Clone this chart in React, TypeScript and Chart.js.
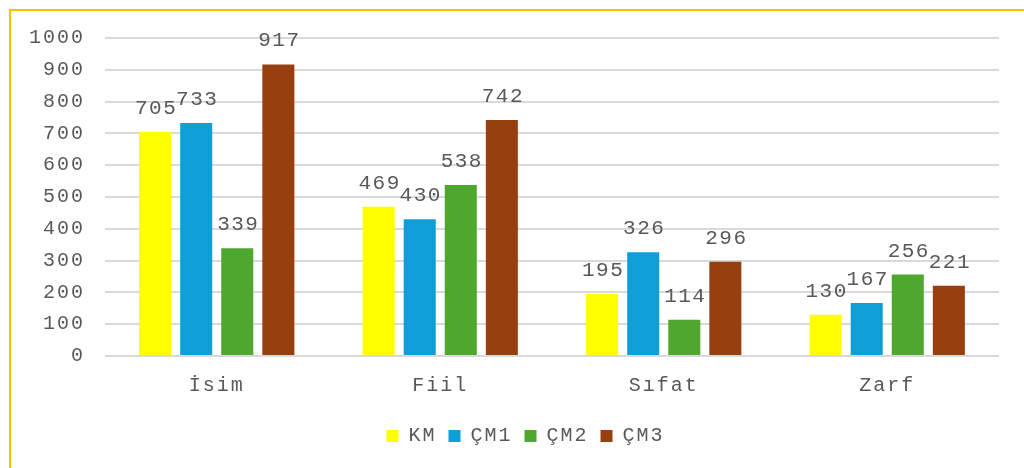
import React, { useEffect, useRef } from "react";
import { Chart, registerables } from "chart.js";

Chart.register(...registerables);

const categories = ["İsim", "Fiil", "Sıfat", "Zarf"];
const seriesNames = ["KM", "ÇM1", "ÇM2", "ÇM3"];
const kmValues = [705, 469, 195, 130];
const cm1Values = [733, 430, 326, 167];
const cm2Values = [339, 538, 114, 256];
const cm3Values = [917, 742, 296, 221];
const seriesColors = ["#FFFF00", "#0F9ED8", "#4EA72E", "#973F0F"];
const yTicks = [0, 100, 200, 300, 400, 500, 600, 700, 800, 900, 1000];

const FONT = "'Liberation Mono', 'DejaVu Sans Mono', monospace";
const TEXT = "#595959";

const spacingPlugin = {
  id: "spacing",
  beforeDraw(chart: any) {
    chart.ctx.letterSpacing = "2px";
  },
};

const labelPlugin = {
  id: "barLabels",
  afterDatasetsDraw(chart: any) {
    const ctx = chart.ctx;
    ctx.save();
    ctx.letterSpacing = "1.5px";
    ctx.font = `21px ${FONT}`;
    ctx.fillStyle = TEXT;
    ctx.textAlign = "center";
    ctx.textBaseline = "alphabetic";
    chart.data.datasets.forEach((ds: any, i: number) => {
      const meta = chart.getDatasetMeta(i);
      meta.data.forEach((bar: any, j: number) => {
        ctx.fillText(String(ds.data[j]), bar.x + 1, bar.y - 18);
      });
    });
    ctx.restore();
  },
};

export default function App() {
  const ref = useRef<HTMLCanvasElement>(null);
  useEffect(() => {
    const all = [kmValues, cm1Values, cm2Values, cm3Values];
    const chart = new Chart(ref.current!, {
      type: "bar",
      data: {
        labels: categories,
        datasets: all.map((vals, i) => ({
          label: seriesNames[i],
          data: vals,
          backgroundColor: seriesColors[i],
          borderWidth: 0,
          barPercentage: 0.78,
          categoryPercentage: 0.735,
        })),
      },
      options: {
        animation: false,
        responsive: false,
        devicePixelRatio: 1,
        layout: { padding: { left: 30, right: 25, top: 38, bottom: 12 } },
        plugins: {
          tooltip: { enabled: false },
          legend: {
            position: "bottom",
            labels: {
              boxWidth: 12,
              boxHeight: 12,
              padding: 12,
              color: TEXT,
              font: { family: FONT, size: 20 },
            },
          },
        },
        scales: {
          x: {
            grid: { display: false },
            border: { display: false },
            ticks: { color: TEXT, font: { family: FONT, size: 20 }, padding: 10 },
            afterFit(scale: any) {
              scale.height = 58;
            },
          },
          y: {
            min: 0,
            max: 1000,
            clip: false,
            afterBuildTicks(scale: any) {
              scale.ticks = yTicks.map((v) => ({ value: v }));
            },
            grid: { color: "#D9D9D9", lineWidth: 2, drawTicks: false },
            border: { display: false },
            ticks: {
              color: TEXT,
              font: { family: FONT, size: 20 },
              padding: 20,
              callback: (v: any) => String(v),
            },
            afterFit(scale: any) {
              scale.width = 75;
            },
          },
        },
      },
      plugins: [spacingPlugin, labelPlugin],
    });
    return () => chart.destroy();
  }, []);
  return (
    <div style={{ position: "fixed", left: 0, top: 0, width: 1024, height: 468, background: "#fff", overflow: "hidden" }}>
      <canvas ref={ref} width={1024} height={468} style={{ position: "absolute", left: 0, top: 0 }} />
      <div style={{ position: "absolute", left: 9, top: 9, width: 1100, height: 1000, border: "2px solid #FFC000", pointerEvents: "none" }} />
    </div>
  );
}
